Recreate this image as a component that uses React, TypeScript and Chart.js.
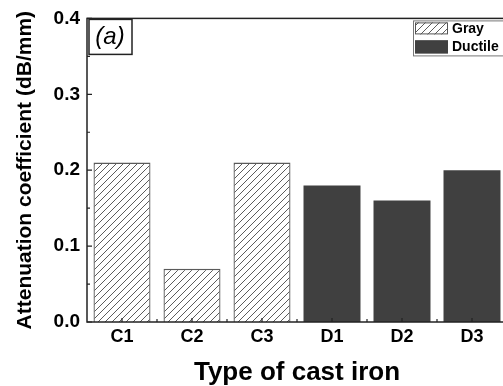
import React, { useEffect, useRef } from "react";
import { Chart, registerables } from "chart.js";

Chart.register(...registerables);

const categories = ["C1", "C2", "C3", "D1", "D2", "D3"];
const grayValues = [0.21, 0.07, 0.21, null, null, null];
const ductileValues = [null, null, null, 0.18, 0.16, 0.2];
const seriesNames = ["Gray", "Ductile"];
const yMin = 0;
const yMax = 0.4;
const yStep = 0.1;
const yMinorStep = 0.05;
const panelLabel = "(a)";
const xTitle = "Type of cast iron";
const yTitle = "Attenuation coefficient (dB/mm)";

const FONT = "'Liberation Sans', Arial, Helvetica, sans-serif";

function makeHatch(): CanvasPattern | string {
  const size = 7;
  const pc = document.createElement("canvas");
  pc.width = size;
  pc.height = size;
  const p = pc.getContext("2d");
  if (!p) return "#fff";
  p.fillStyle = "#ffffff";
  p.fillRect(0, 0, size, size);
  p.strokeStyle = "#4a4a4a";
  p.lineWidth = 0.9;
  p.beginPath();
  p.moveTo(0, size);
  p.lineTo(size, 0);
  p.moveTo(-1, 1);
  p.lineTo(1, -1);
  p.moveTo(size - 1, size + 1);
  p.lineTo(size + 1, size - 1);
  p.stroke();
  const pat = p.createPattern(pc, "repeat");
  return pat || "#fff";
}

export default function App() {
  const ref = useRef<HTMLCanvasElement | null>(null);

  useEffect(() => {
    const canvas = ref.current;
    if (!canvas) return;
    const hatch = makeHatch();
    const darkFill = "#404040";

    const decor = {
      id: "decor",
      afterDraw(chart: any) {
        const { ctx, chartArea } = chart;
        const { left, right, top, bottom } = chartArea;
        const ys = chart.scales.y;
        const xs = chart.scales.x;
        ctx.save();
        // frame
        ctx.strokeStyle = "#222";
        ctx.lineWidth = 1.5;
        ctx.strokeRect(left, top, right - left, bottom - top);
        // y ticks (inward)
        ctx.lineWidth = 1.2;
        ctx.beginPath();
        for (let v = yMin; v <= yMax + 1e-9; v += yMinorStep) {
          const y = ys.getPixelForValue(v);
          const major = Math.abs(Math.round(v / yStep) * yStep - v) < 1e-9;
          const len = major ? 5 : 3;
          ctx.moveTo(left, y);
          ctx.lineTo(left + len, y);
        }
        // x ticks
        for (let i = 0; i < categories.length; i++) {
          const cx = xs.getPixelForValue(i);
          ctx.moveTo(cx, bottom);
          ctx.lineTo(cx, bottom - 4);
          const bx = cx + (xs.getPixelForValue(1) - xs.getPixelForValue(0)) / 2;
          ctx.moveTo(bx, bottom);
          ctx.lineTo(bx, bottom - 3);
        }
        ctx.stroke();

        // panel label box
        ctx.lineWidth = 1.5;
        ctx.strokeStyle = "#222";
        ctx.fillStyle = "#fff";
        ctx.fillRect(left + 2, top + 1, 43, 35);
        ctx.strokeRect(left + 2, top + 1, 43, 35);
        ctx.fillStyle = "#000";
        ctx.font = `italic 24px ${FONT}`;
        ctx.textAlign = "center";
        ctx.textBaseline = "alphabetic";
        ctx.fillText(panelLabel, left + 23, top + 26);

        // legend
        const lx = 413;
        const ly = top + 2;
        ctx.fillStyle = "#fff";
        ctx.fillRect(lx, ly, 120, 35);
        ctx.strokeStyle = "#777";
        ctx.lineWidth = 1;
        ctx.strokeRect(lx + 0.5, ly + 0.5, 120, 35);
        const sw = [
          { y: ly + 2, h: 12, fill: hatch, border: "#555" },
          { y: ly + 20, h: 13, fill: darkFill, border: darkFill },
        ];
        ctx.font = `bold 14px ${FONT}`;
        ctx.textAlign = "left";
        ctx.textBaseline = "middle";
        sw.forEach((s, i) => {
          ctx.fillStyle = s.fill as any;
          ctx.fillRect(lx + 2, s.y, 33, s.h);
          ctx.strokeStyle = s.border;
          ctx.lineWidth = 1;
          ctx.strokeRect(lx + 2.5, s.y + 0.5, 32, s.h - 1);
          ctx.fillStyle = "#000";
          ctx.fillText(seriesNames[i], lx + 39, s.y + s.h / 2 + 0.5);
        });
        ctx.restore();
      },
    };

    const chart = new Chart(canvas, {
      type: "bar",
      data: {
        labels: categories,
        datasets: [
          {
            label: seriesNames[0],
            data: grayValues as any,
            backgroundColor: hatch as any,
            borderColor: "#5a5a5a",
            borderWidth: 1.3,
            barPercentage: 0.814,
            categoryPercentage: 1,
          },
          {
            label: seriesNames[1],
            data: ductileValues as any,
            backgroundColor: darkFill,
            borderColor: darkFill,
            borderWidth: 0,
            barPercentage: 0.814,
            categoryPercentage: 1,
          },
        ],
      },
      options: {
        animation: false,
        responsive: false,
        devicePixelRatio: 1,
        layout: { padding: { top: 17, right: 8, left: 0, bottom: 0 } },
        plugins: {
          legend: { display: false },
          tooltip: { enabled: false },
        },
        scales: {
          x: {
            stacked: true,
            grid: { display: false, drawTicks: false },
            border: { display: false },
            ticks: {
              color: "#000",
              font: { family: FONT, size: 18, weight: "bold" },
              padding: 4,
            },
            title: {
              display: true,
              text: xTitle,
              color: "#000",
              font: { family: FONT, size: 26, weight: "bold", lineHeight: 1 },
              padding: { top: 0, bottom: 0 },
            },
            afterFit: (s: any) => {
              s.height = 64;
            },
          },
          y: {
            stacked: true,
            min: yMin,
            max: yMax,
            grid: { display: false, drawTicks: false },
            border: { display: false },
            ticks: {
              stepSize: yStep,
              color: "#000",
              font: { family: FONT, size: 19, weight: "bold" },
              padding: 7,
              callback: (v: any) => Number(v).toFixed(1),
            },
            title: {
              display: true,
              text: yTitle,
              color: "#000",
              font: { family: FONT, size: 21, weight: "bold", lineHeight: 1 },
              padding: { top: 15, bottom: 0 },
            },
            afterFit: (s: any) => {
              s.width = 87;
            },
          },
        },
      },
      plugins: [decor],
    } as any);

    return () => chart.destroy();
  }, []);

  return (
    <div
      style={{
        position: "fixed",
        left: 0,
        top: 0,
        width: 503,
        height: 386,
        overflow: "hidden",
        background: "#fff",
      }}
    >
      <canvas ref={ref} width={515} height={386} style={{ width: 515, height: 386, display: "block" }} />
    </div>
  );
}
